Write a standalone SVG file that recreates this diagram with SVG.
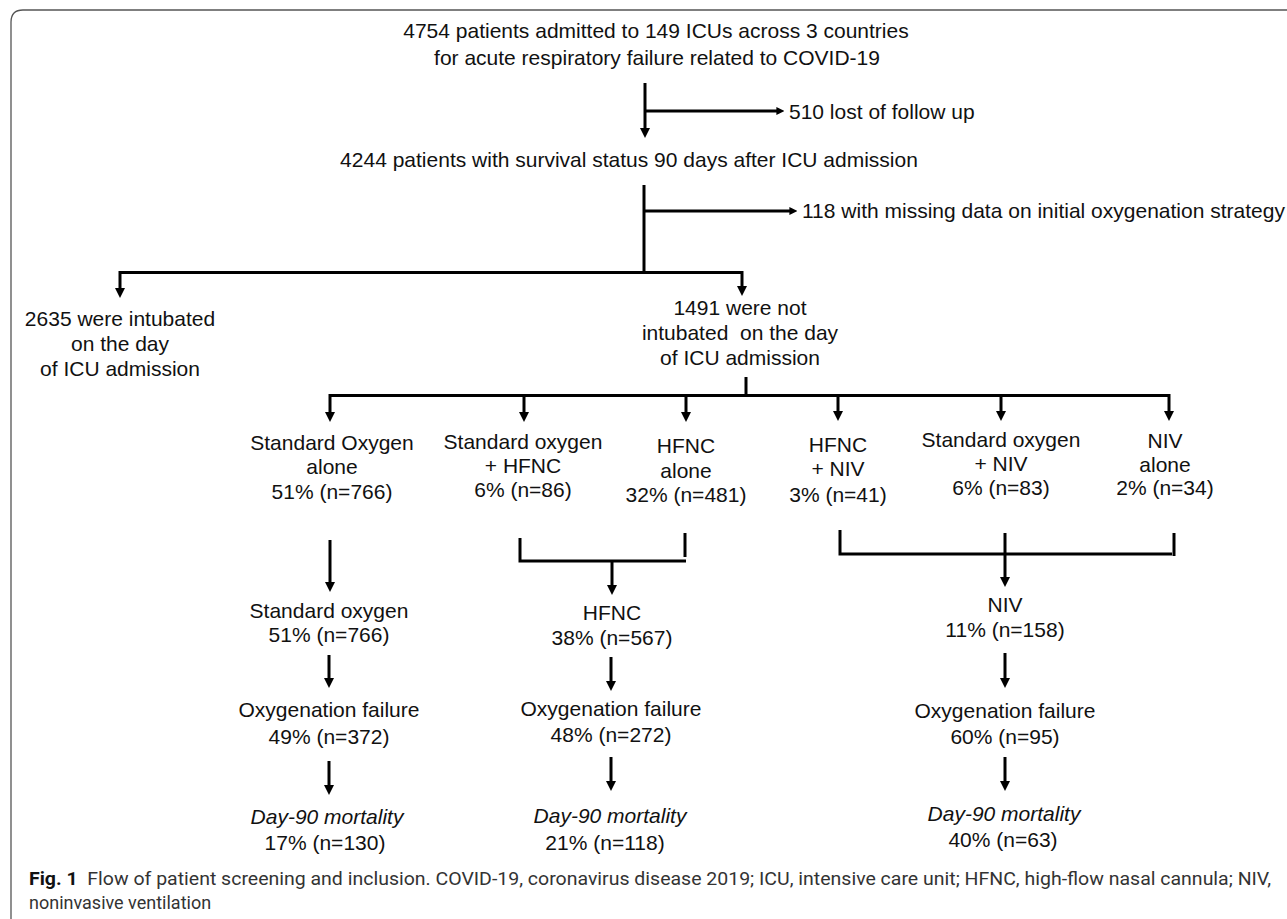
<svg xmlns="http://www.w3.org/2000/svg" width="1287" height="919" viewBox="0 0 1287 919">
<style>
  .t { font-family: "Liberation Sans", Arial, sans-serif; font-size: 21px; fill: #111; text-anchor: middle; }
  .ts { text-anchor: start; }
  .it { font-style: italic; }
  .ln { stroke: #000; stroke-width: 3; fill: none; stroke-linecap: butt; }
  .cap { font-family: Roboto, "Liberation Sans", sans-serif; font-size: 18px; fill: #333; }
  .frame { stroke: #555; stroke-width: 1.3; fill: none; }
</style>
<defs>
  <marker id="ah" viewBox="0 0 10 10" refX="2" refY="5" markerWidth="10" markerHeight="10" orient="auto" markerUnits="userSpaceOnUse">
    <path d="M0,0 L10,5 L0,10 z" fill="#000"/>
  </marker>
  <marker id="ahs" viewBox="0 0 10 10" refX="2" refY="5" markerWidth="8" markerHeight="8" orient="auto" markerUnits="userSpaceOnUse">
    <path d="M0,0 L10,5 L0,10 z" fill="#000"/>
  </marker>
</defs>
<rect width="1287" height="919" fill="#fff"/>
<path class="frame" d="M11 919 V22 Q11 10 23 10 H1287"/>

<g id="connectors">
  <line class="ln" x1="645" y1="83" x2="645" y2="130" marker-end="url(#ah)"/>
  <line class="ln" x1="645" y1="111" x2="778" y2="111" marker-end="url(#ahs)"/>
  <line class="ln" x1="644" y1="185" x2="644" y2="273"/>
  <line class="ln" x1="644" y1="211" x2="791" y2="211" marker-end="url(#ahs)"/>
  <line class="ln" x1="120" y1="272.5" x2="742" y2="272.5"/>
  <line class="ln" x1="120" y1="271" x2="120" y2="290" marker-end="url(#ah)"/>
  <line class="ln" x1="742" y1="271" x2="742" y2="288" marker-end="url(#ah)"/>
  <line class="ln" x1="746" y1="377" x2="746" y2="396"/>
  <line class="ln" x1="330" y1="395.5" x2="1170" y2="395.5"/>
  <line class="ln" x1="330" y1="394" x2="330" y2="414" marker-end="url(#ah)"/>
  <line class="ln" x1="524" y1="395" x2="524" y2="414" marker-end="url(#ah)"/>
  <line class="ln" x1="686" y1="395" x2="686" y2="414" marker-end="url(#ah)"/>
  <line class="ln" x1="838" y1="395" x2="838" y2="413" marker-end="url(#ah)"/>
  <line class="ln" x1="1001" y1="395" x2="1001" y2="413" marker-end="url(#ah)"/>
  <line class="ln" x1="1169" y1="394" x2="1169" y2="413" marker-end="url(#ah)"/>
  <line class="ln" x1="330" y1="540" x2="330" y2="584" marker-end="url(#ah)"/>
  <polyline class="ln" points="520,538 520,561 686,561"/>
  <line class="ln" x1="685" y1="533" x2="685" y2="557"/>
  <line class="ln" x1="612" y1="561" x2="612" y2="587" marker-end="url(#ah)"/>
  <polyline class="ln" points="840,530 840,554 1172,554"/>
  <line class="ln" x1="1174" y1="533" x2="1174" y2="556"/>
  <line class="ln" x1="1005" y1="533" x2="1005" y2="579" marker-end="url(#ah)"/>
  <line class="ln" x1="329" y1="655" x2="329" y2="680" marker-end="url(#ah)"/>
  <line class="ln" x1="611" y1="657" x2="611" y2="683" marker-end="url(#ah)"/>
  <line class="ln" x1="1005" y1="653" x2="1005" y2="680" marker-end="url(#ah)"/>
  <line class="ln" x1="329" y1="761" x2="329" y2="787" marker-end="url(#ah)"/>
  <line class="ln" x1="611" y1="757" x2="611" y2="783" marker-end="url(#ah)"/>
  <line class="ln" x1="1005" y1="757" x2="1005" y2="783" marker-end="url(#ah)"/>
</g>

<g id="n-admitted">
  <text class="t" x="656" y="38">4754 patients admitted to 149 ICUs across 3 countries</text>
  <text class="t" x="657" y="65">for acute respiratory failure related to COVID-19</text>
</g>
<g id="n-lost"><text class="t ts" x="789" y="119">510 lost of follow up</text></g>
<g id="n-survival"><text class="t" x="629" y="167">4244 patients with survival status 90 days after ICU admission</text></g>
<g id="n-missing"><text class="t ts" x="802" y="218">118 with missing data on initial oxygenation strategy</text></g>
<g id="n-intubated">
  <text class="t" x="120" y="326">2635 were intubated</text>
  <text class="t" x="120" y="351">on the day</text>
  <text class="t" x="120" y="376">of ICU admission</text>
</g>
<g id="n-notintubated">
  <text class="t" x="740" y="315">1491 were not</text>
  <text class="t" x="740" y="340" xml:space="preserve">intubated  on the day</text>
  <text class="t" x="740" y="365">of ICU admission</text>
</g>
<g id="n-so-alone">
  <text class="t" x="332" y="450">Standard Oxygen</text>
  <text class="t" x="332" y="474">alone</text>
  <text class="t" x="332" y="499">51% (n=766)</text>
</g>
<g id="n-so-hfnc">
  <text class="t" x="523" y="449">Standard oxygen</text>
  <text class="t" x="523" y="473">+ HFNC</text>
  <text class="t" x="523" y="497">6% (n=86)</text>
</g>
<g id="n-hfnc-alone">
  <text class="t" x="686" y="453">HFNC</text>
  <text class="t" x="686" y="478">alone</text>
  <text class="t" x="686" y="502">32% (n=481)</text>
</g>
<g id="n-hfnc-niv">
  <text class="t" x="838" y="452">HFNC</text>
  <text class="t" x="838" y="476">+ NIV</text>
  <text class="t" x="838" y="502">3% (n=41)</text>
</g>
<g id="n-so-niv">
  <text class="t" x="1001" y="447">Standard oxygen</text>
  <text class="t" x="1001" y="471">+ NIV</text>
  <text class="t" x="1001" y="495">6% (n=83)</text>
</g>
<g id="n-niv-alone">
  <text class="t" x="1165" y="448">NIV</text>
  <text class="t" x="1165" y="472">alone</text>
  <text class="t" x="1165" y="495">2% (n=34)</text>
</g>
<g id="n-so">
  <text class="t" x="329" y="618">Standard oxygen</text>
  <text class="t" x="329" y="642">51% (n=766)</text>
</g>
<g id="n-hfnc">
  <text class="t" x="612" y="620">HFNC</text>
  <text class="t" x="612" y="645">38% (n=567)</text>
</g>
<g id="n-niv">
  <text class="t" x="1005" y="612">NIV</text>
  <text class="t" x="1005" y="637">11% (n=158)</text>
</g>
<g id="n-fail-so">
  <text class="t" x="329" y="717">Oxygenation failure</text>
  <text class="t" x="329" y="744">49% (n=372)</text>
</g>
<g id="n-fail-hfnc">
  <text class="t" x="611" y="716">Oxygenation failure</text>
  <text class="t" x="611" y="742">48% (n=272)</text>
</g>
<g id="n-fail-niv">
  <text class="t" x="1005" y="718">Oxygenation failure</text>
  <text class="t" x="1005" y="744">60% (n=95)</text>
</g>
<g id="n-mort-so">
  <text class="t it" x="327" y="824">Day-90 mortality</text>
  <text class="t" x="325" y="850">17% (n=130)</text>
</g>
<g id="n-mort-hfnc">
  <text class="t it" x="610" y="823">Day-90 mortality</text>
  <text class="t" x="605" y="850">21% (n=118)</text>
</g>
<g id="n-mort-niv">
  <text class="t it" x="1004" y="821">Day-90 mortality</text>
  <text class="t" x="1003" y="847">40% (n=63)</text>
</g>

<g id="caption">
  <text class="cap" x="29" y="885" textLength="1242" lengthAdjust="spacingAndGlyphs"><tspan font-weight="bold" fill="#111">Fig. 1</tspan><tspan xml:space="preserve">  Flow of patient screening and inclusion. COVID-19, coronavirus disease 2019; ICU, intensive care unit; HFNC, high-flow nasal cannula; NIV,</tspan></text>
  <text class="cap" x="29" y="909">noninvasive ventilation</text>
</g>
</svg>
